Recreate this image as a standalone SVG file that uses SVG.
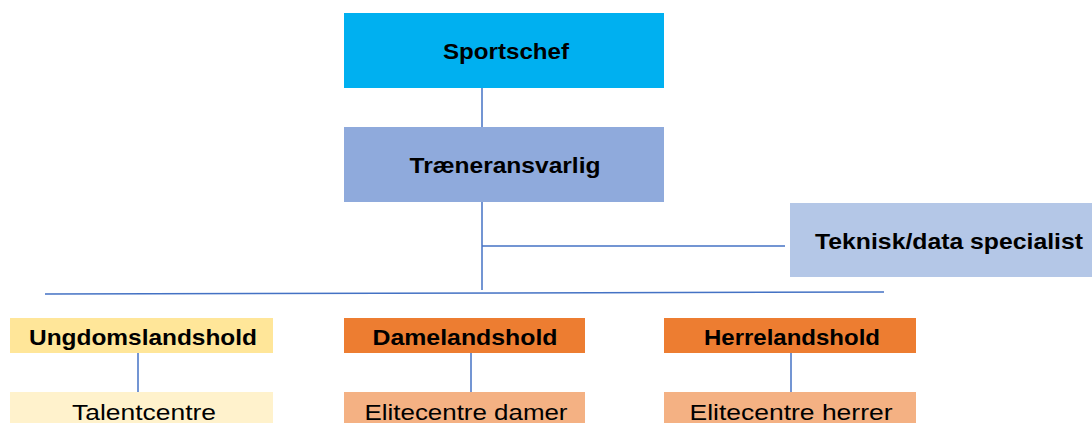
<svg xmlns="http://www.w3.org/2000/svg" width="1092" height="423" viewBox="0 0 1092 423">
<style>
.b{font-family:"Liberation Sans",Arial,sans-serif;font-weight:bold;font-size:22px;fill:#000;text-anchor:middle}
.r{font-family:"Liberation Sans",Arial,sans-serif;font-size:22px;fill:#000;text-anchor:middle}
.c{stroke:#4472C4;stroke-width:1.5;fill:none}
</style>
<rect width="1092" height="423" fill="#fff"/>
<g id="connectors">
<line class="c" x1="482" y1="88" x2="482" y2="127"/>
<line class="c" x1="482" y1="202" x2="482" y2="290"/>
<line class="c" x1="482" y1="246" x2="785" y2="246"/>
<line class="c" x1="45" y1="294" x2="884" y2="292"/>
<line class="c" x1="138" y1="353" x2="138" y2="392"/>
<line class="c" x1="471" y1="353" x2="471" y2="392"/>
<line class="c" x1="791" y1="353" x2="791" y2="392"/>
</g>
<g id="sportschef">
<rect x="344" y="13" width="320" height="75" fill="#00B0F0"/>
<text class="b" x="506" y="59" textLength="126" lengthAdjust="spacingAndGlyphs">Sportschef</text>
</g>
<g id="traeneransvarlig">
<rect x="344" y="127" width="320" height="75" fill="#8FAADC"/>
<text class="b" x="505" y="173" textLength="191" lengthAdjust="spacingAndGlyphs">Træneransvarlig</text>
</g>
<g id="teknisk">
<rect x="790" y="203" width="302" height="74" fill="#B4C7E7"/>
<text class="b" x="949" y="249" textLength="268" lengthAdjust="spacingAndGlyphs">Teknisk/data specialist</text>
</g>
<g id="ungdomslandshold">
<rect x="10" y="318" width="263" height="35" fill="#FFE699"/>
<text class="b" x="143" y="345" textLength="228" lengthAdjust="spacingAndGlyphs">Ungdomslandshold</text>
</g>
<g id="damelandshold">
<rect x="344" y="318" width="241" height="35" fill="#ED7D31"/>
<text class="b" x="465" y="345" textLength="185" lengthAdjust="spacingAndGlyphs">Damelandshold</text>
</g>
<g id="herrelandshold">
<rect x="664" y="318" width="252" height="35" fill="#ED7D31"/>
<text class="b" x="792" y="345" textLength="176" lengthAdjust="spacingAndGlyphs">Herrelandshold</text>
</g>
<g id="talentcentre">
<rect x="10" y="392" width="263" height="31" fill="#FFF2CC"/>
<text class="r" x="144" y="420" textLength="144" lengthAdjust="spacingAndGlyphs">Talentcentre</text>
</g>
<g id="elitecentre-damer">
<rect x="344" y="392" width="241" height="31" fill="#F4B183"/>
<text class="r" x="466" y="420" textLength="203" lengthAdjust="spacingAndGlyphs">Elitecentre damer</text>
</g>
<g id="elitecentre-herrer">
<rect x="664" y="392" width="252" height="31" fill="#F4B183"/>
<text class="r" x="791" y="420" textLength="203" lengthAdjust="spacingAndGlyphs">Elitecentre herrer</text>
</g>
</svg>
